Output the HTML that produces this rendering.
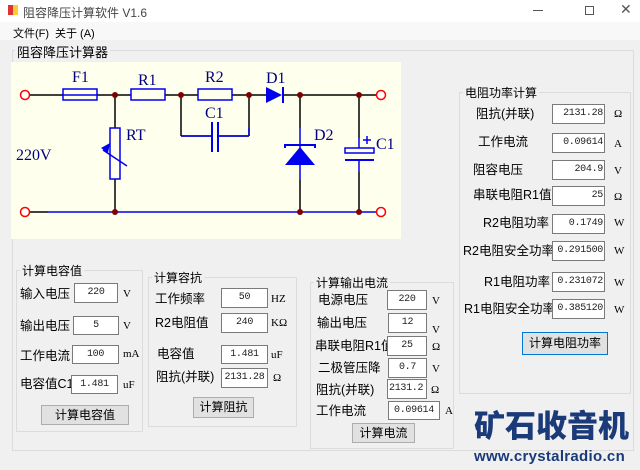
<!DOCTYPE html>
<html><head><meta charset="utf-8"><style>
*{margin:0;padding:0;box-sizing:border-box}
body{width:640px;height:470px;background:#f0f0f0;position:relative;overflow:hidden;font-family:"Liberation Sans","Noto Sans CJK SC",sans-serif;font-size:12px;color:#000}
.a{position:absolute;white-space:nowrap}
.g{position:absolute;border:1px solid #dcdcdc}
.gl{position:absolute;background:#f0f0f0;padding:0 2px;font-size:12px;white-space:nowrap}
.l{position:absolute;font-size:12.5px;white-space:nowrap;line-height:14px}
.i{position:absolute;background:#fff;border:1px solid #7a7a7a;font-family:"Liberation Mono","Noto Serif CJK SC",monospace;font-size:10px;letter-spacing:-0.3px;text-align:center;line-height:17px;overflow:hidden;color:#222}
.r{text-align:right;padding-right:1px}
.u{position:absolute;font-family:"Liberation Serif",serif;font-size:11px}
.b{position:absolute;background:#e1e1e1;border:1px solid #adadad;text-align:center;font-size:12px;line-height:18px}
</style></head><body>
<div class="a" style="left:0;top:0;width:640px;height:22px;background:#fff"></div>
<div class="a" style="left:8px;top:5px;width:10px;height:10px;background:linear-gradient(90deg,#d33 50%,#fc3 50%)"></div>
<div class="a" style="left:23px;top:4px;font-size:12px;color:#444">阻容降压计算软件 V1.6</div>
<div class="a" style="left:533px;top:10px;width:10px;height:1px;background:#555"></div>
<div class="a" style="left:585px;top:6px;width:9px;height:9px;border:1px solid #555"></div>
<div class="a" style="left:620px;top:1px;font-size:14px;color:#555">✕</div>
<div class="a" style="left:0;top:22px;width:640px;height:18px;background:#f8f8f8"></div>
<div class="a" style="left:13px;top:25px;font-size:11px">文件(F)</div>
<div class="a" style="left:55px;top:25px;font-size:11px">关于 (A)</div>
<div class="g" style="left:12px;top:50px;width:622px;height:401px"></div>
<div class="gl" style="left:15px;top:42px;font-size:13px">阻容降压计算器</div>

<svg class="a" style="left:11px;top:62px" width="390" height="177" viewBox="11 62 390 177">
<rect x="11" y="62" width="390" height="177" fill="#ffffee"/>
<g stroke="#000" stroke-width="1.5" fill="none">
<line x1="30" y1="95" x2="63" y2="95"/><line x1="97" y1="95" x2="131" y2="95"/><line x1="165" y1="95" x2="198" y2="95"/><line x1="232" y1="95" x2="266" y2="95"/>
<line x1="283" y1="95" x2="376" y2="95"/>
<line x1="30" y1="212" x2="48" y2="212"/>
<line x1="115" y1="95" x2="115" y2="128"/><line x1="115" y1="179" x2="115" y2="212"/>
<line x1="181" y1="95" x2="181" y2="136"/><line x1="181" y1="136" x2="212" y2="136"/><line x1="218" y1="136" x2="249" y2="136"/><line x1="249" y1="136" x2="249" y2="95"/>
<line x1="300" y1="95" x2="300" y2="128"/><line x1="300" y1="180" x2="300" y2="212"/>
<line x1="359" y1="95" x2="359" y2="138"/><line x1="359" y1="172" x2="359" y2="212"/>
</g>
<g stroke="#0000ee" stroke-width="1.5" fill="none">
<line x1="48" y1="212" x2="376" y2="212"/>
<line x1="182" y1="136" x2="212" y2="136"/><line x1="218" y1="136" x2="248" y2="136"/><line x1="249" y1="136" x2="249" y2="128"/>
<rect x="63" y="89" width="34" height="11"/><line x1="63" y1="95" x2="97" y2="95"/>
<rect x="131" y="89" width="34" height="11"/><rect x="198" y="89" width="34" height="11"/>
<rect x="110" y="128" width="10" height="51"/>
<line x1="103" y1="150" x2="127" y2="166"/>
<line x1="212" y1="122" x2="212" y2="152" stroke-width="2"/><line x1="218" y1="122" x2="218" y2="152" stroke-width="2"/>
<line x1="283" y1="87" x2="283" y2="103" stroke-width="2"/>
<line x1="300" y1="128" x2="300" y2="180"/>
<polyline points="285,148 285,145 315,145 315,148" stroke-width="2"/>
<rect x="345" y="148" width="29" height="5" stroke-width="1.5"/>
<line x1="345" y1="160" x2="374" y2="160" stroke-width="2"/>
<line x1="359" y1="138" x2="359" y2="148"/><line x1="359" y1="160" x2="359" y2="172"/>
<line x1="363" y1="140" x2="371" y2="140"/><line x1="367" y1="136" x2="367" y2="144"/>
</g>
<polygon points="266,87 266,103 282,95" fill="#0000ee"/>
<polygon points="300,147 285,165 315,165" fill="#0000ee"/>
<polygon points="101,148 110,143 108,153" fill="#0000ee"/>
<g fill="#800000"><circle cx="115" cy="95" r="3"/><circle cx="181" cy="95" r="3"/><circle cx="249" cy="95" r="3"/><circle cx="300" cy="95" r="3"/><circle cx="359" cy="95" r="3"/><circle cx="115" cy="212" r="3"/><circle cx="300" cy="212" r="3"/><circle cx="359" cy="212" r="3"/></g>
<g fill="#fff" stroke="#ff0000" stroke-width="1.5"><circle cx="25" cy="95" r="4.5"/><circle cx="381" cy="95" r="4.5"/><circle cx="25" cy="212" r="4.5"/><circle cx="381" cy="212" r="4.5"/></g>
<g fill="#000080" font-family="Liberation Serif,serif" font-size="16">
<text x="72" y="82">F1</text><text x="138" y="85">R1</text><text x="205" y="82">R2</text><text x="266" y="83">D1</text><text x="205" y="118">C1</text>
<text x="126" y="140">RT</text><text x="314" y="140">D2</text><text x="376" y="149">C1</text><text x="16" y="160">220V</text></g>
</svg>

<!-- G1 -->
<div class="g" style="left:16px;top:270px;width:127px;height:162px"></div>
<div class="gl" style="left:20px;top:262px">计算电容值</div>
<div class="l" style="left:20px;top:287px">输入电压</div><div class="i" style="left:74px;top:283px;width:44px;height:20px">220</div><div class="u" style="left:123px;top:288px">V</div>
<div class="l" style="left:20px;top:319px">输出电压</div><div class="i" style="left:73px;top:316px;width:46px;height:19px">5</div><div class="u" style="left:123px;top:320px">V</div>
<div class="l" style="left:20px;top:349px">工作电流</div><div class="i" style="left:72px;top:345px;width:47px;height:19px">100</div><div class="u" style="left:123px;top:348px">mA</div>
<div class="l" style="left:20px;top:377px">电容值C1</div><div class="i" style="left:71px;top:375px;width:47px;height:19px">1.481</div><div class="u" style="left:123px;top:379px">uF</div>
<div class="b" style="left:41px;top:405px;width:88px;height:20px">计算电容值</div>
<!-- G2 -->
<div class="g" style="left:148px;top:277px;width:149px;height:150px"></div>
<div class="gl" style="left:152px;top:269px">计算容抗</div>
<div class="l" style="left:155px;top:292px">工作频率</div><div class="i" style="left:221px;top:288px;width:47px;height:20px">50</div><div class="u" style="left:271px;top:293px">HZ</div>
<div class="l" style="left:155px;top:316px">R2电阻值</div><div class="i" style="left:221px;top:313px;width:47px;height:20px">240</div><div class="u" style="left:271px;top:317px">KΩ</div>
<div class="l" style="left:157px;top:347px">电容值</div><div class="i" style="left:221px;top:345px;width:47px;height:19px">1.481</div><div class="u" style="left:271px;top:349px">uF</div>
<div class="l" style="left:156px;top:370px">阻抗(并联)</div><div class="i" style="left:221px;top:368px;width:47px;height:20px">2131.28</div><div class="u" style="left:273px;top:372px">Ω</div>
<div class="b" style="left:193px;top:397px;width:61px;height:21px">计算阻抗</div>
<!-- G3 -->
<div class="g" style="left:310px;top:282px;width:144px;height:167px"></div>
<div class="gl" style="left:314px;top:274px">计算输出电流</div>
<div class="l" style="left:318px;top:293px">电源电压</div><div class="i" style="left:387px;top:290px;width:40px;height:20px">220</div><div class="u" style="left:432px;top:295px">V</div>
<div class="l" style="left:317px;top:316px">输出电压</div><div class="i" style="left:388px;top:313px;width:39px;height:20px">12</div><div class="u" style="left:432px;top:324px">V</div>
<div class="l" style="left:315px;top:339px">串联电阻R1值</div><div class="i" style="left:387px;top:336px;width:40px;height:20px">25</div><div class="u" style="left:432px;top:341px">Ω</div>
<div class="l" style="left:318px;top:361px">二极管压降</div><div class="i" style="left:388px;top:358px;width:39px;height:20px">0.7</div><div class="u" style="left:432px;top:363px">V</div>
<div class="l" style="left:316px;top:383px">阻抗(并联)</div><div class="i" style="left:387px;top:379px;width:40px;height:20px;text-align:left;padding-left:1px">2131.2</div><div class="u" style="left:431px;top:384px">Ω</div>
<div class="l" style="left:316px;top:404px">工作电流</div><div class="i" style="left:388px;top:401px;width:52px;height:19px">0.09614</div><div class="u" style="left:445px;top:405px">A</div>
<div class="b" style="left:352px;top:423px;width:63px;height:20px">计算电流</div>
<!-- G4 -->
<div class="g" style="left:459px;top:92px;width:172px;height:302px"></div>
<div class="gl" style="left:463px;top:84px">电阻功率计算</div>
<div class="l" style="left:476px;top:107px">阻抗(并联)</div><div class="i r" style="left:552px;top:104px;width:53px;height:20px">2131.28</div><div class="u" style="left:614px;top:108px">Ω</div>
<div class="l" style="left:478px;top:135px">工作电流</div><div class="i r" style="left:552px;top:133px;width:53px;height:20px">0.09614</div><div class="u" style="left:614px;top:138px">A</div>
<div class="l" style="left:473px;top:163px">阻容电压</div><div class="i r" style="left:552px;top:160px;width:53px;height:20px">204.9</div><div class="u" style="left:614px;top:165px">V</div>
<div class="l" style="left:473px;top:188px">串联电阻R1值</div><div class="i r" style="left:552px;top:186px;width:53px;height:20px">25</div><div class="u" style="left:614px;top:191px">Ω</div>
<div class="l" style="left:483px;top:216px">R2电阻功率</div><div class="i r" style="left:552px;top:214px;width:53px;height:20px">0.1749</div><div class="u" style="left:614px;top:217px">W</div>
<div class="l" style="left:463px;top:244px">R2电阻安全功率</div><div class="i r" style="left:552px;top:241px;width:53px;height:20px">0.291500</div><div class="u" style="left:614px;top:245px">W</div>
<div class="l" style="left:484px;top:275px">R1电阻功率</div><div class="i r" style="left:552px;top:272px;width:53px;height:20px">0.231072</div><div class="u" style="left:614px;top:277px">W</div>
<div class="l" style="left:464px;top:302px">R1电阻安全功率</div><div class="i r" style="left:552px;top:299px;width:53px;height:20px">0.385120</div><div class="u" style="left:614px;top:304px">W</div>
<div class="b" style="left:522px;top:332px;width:86px;height:23px;border:1px solid #0078d7;line-height:20px">计算电阻功率</div>
<!-- logo -->
<div class="a" style="left:474px;top:402px;font-family:'Noto Sans CJK SC',sans-serif;font-weight:900;font-size:31px;color:#1a3a7a;letter-spacing:0px;line-height:44px">矿石收音机</div>
<div class="a" style="left:474px;top:448px;font-family:'Liberation Sans',sans-serif;font-weight:bold;font-size:15px;color:#1a3a7a;letter-spacing:0.3px">www.crystalradio.cn</div>
</body></html>
